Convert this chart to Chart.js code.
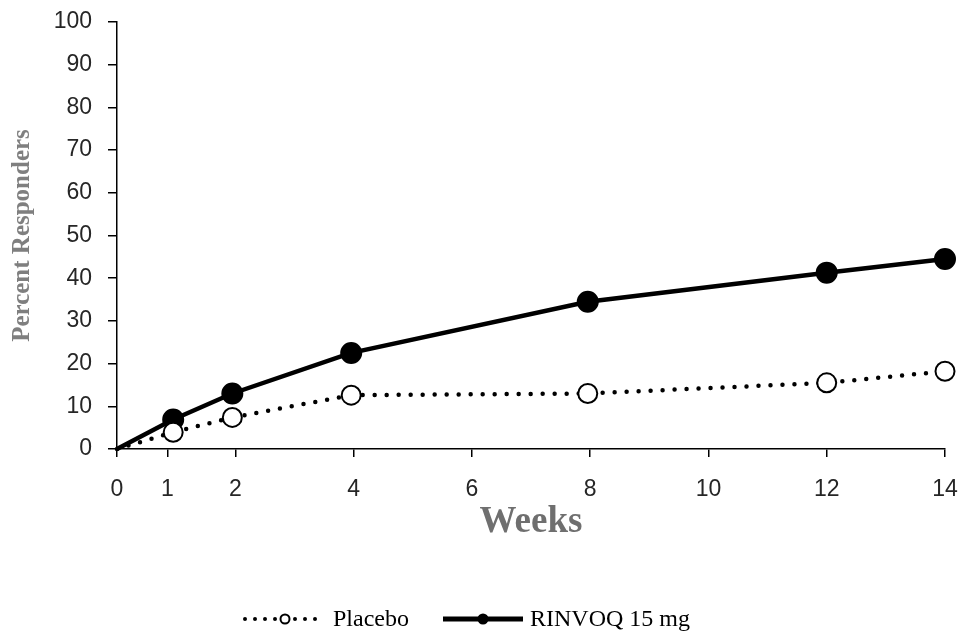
<!DOCTYPE html>
<html>
<head>
<meta charset="utf-8">
<script src="https://cdn.jsdelivr.net/npm/chart.js@4.4.1/dist/chart.umd.min.js"></script>
<style>
  html, body { margin: 0; padding: 0; background: #fff; }
  #wrap { width: 959px; height: 633px; }
</style>
</head>
<body>
<div id="wrap"><canvas id="respChart" width="959" height="633"></canvas></div>
<script>
// weeks where each visit was plotted
const weeks = [0, 0.95, 1.95, 3.96, 7.96, 12, 14];
const placebo = [0, 3.9, 7.4, 12.6, 13.0, 15.5, 18.2];
const rinvoq = [0, 6.9, 13.0, 22.5, 34.5, 41.3, 44.5];

const xTickValues = [0, 0.85, 2, 4, 6, 8, 10, 12, 14];
const xTickLabels = ['0', '1', '2', '4', '6', '8', '10', '12', '14'];
const yTicks = [0, 10, 20, 30, 40, 50, 60, 70, 80, 90, 100];

function toPoints(ys) {
  return weeks.map((w, i) => ({ x: w, y: ys[i] }));
}

// legend drawn on the canvas: sample line + marker + label
const bottomLegend = {
  id: 'bottomLegend',
  afterDraw(chart) {
    const ctx = chart.ctx;
    const y = 619;
    const items = [
      { ds: chart.data.datasets[0], x0: 245, x1: 325, tx: 333 },
      { ds: chart.data.datasets[1], x0: 443, x1: 523, tx: 530 }
    ];
    ctx.save();
    items.forEach(it => {
      const ds = it.ds;
      ctx.beginPath();
      ctx.strokeStyle = ds.borderColor;
      ctx.lineWidth = ds.legendLineWidth;
      ctx.lineCap = ds.borderCapStyle || 'butt';
      ctx.setLineDash(ds.legendDash || []);
      ctx.moveTo(it.x0, y);
      ctx.lineTo(it.x1, y);
      ctx.stroke();
      ctx.setLineDash([]);
      ctx.beginPath();
      ctx.arc((it.x0 + it.x1) / 2, y, 4.5, 0, Math.PI * 2);
      ctx.fillStyle = ds.pointBackgroundColor;
      ctx.fill();
      ctx.lineWidth = 2;
      ctx.strokeStyle = '#000';
      ctx.stroke();
      ctx.fillStyle = '#000';
      ctx.font = '24px "Liberation Serif", "Times New Roman", serif';
      ctx.textBaseline = 'middle';
      ctx.textAlign = 'left';
      ctx.fillText(ds.label, it.tx, y + 1);
    });
    ctx.restore();
  }
};

const ctx = document.getElementById('respChart').getContext('2d');
new Chart(ctx, {
  type: 'line',
  data: {
    datasets: [{
      label: 'Placebo',
      data: toPoints(placebo),
      borderColor: '#000',
      borderWidth: 4.5,
      borderDash: [0, 12],
      borderCapStyle: 'round',
      legendDash: [0, 10],
      legendLineWidth: 4,
      pointRadius: [0, 9.5, 9.5, 9.5, 9.5, 9.5, 9.5],
      pointBackgroundColor: '#fff',
      pointBorderColor: '#000',
      pointBorderWidth: 2,
      fill: false,
      tension: 0
    }, {
      label: 'RINVOQ 15 mg',
      data: toPoints(rinvoq),
      borderColor: '#000',
      borderWidth: 4.5,
      legendLineWidth: 5,
      borderCapStyle: 'butt',
      pointRadius: [0, 10, 10, 10, 10, 10, 10],
      pointBackgroundColor: '#000',
      pointBorderColor: '#000',
      pointBorderWidth: 2,
      fill: false,
      tension: 0
    }]
  },
  options: {
    responsive: false,
    animation: false,
    clip: false,
    layout: { padding: { left: 0, right: 14, top: 22, bottom: 88 } },
    plugins: {
      legend: { display: false },
      tooltip: { enabled: false }
    },
    scales: {
      x: {
        type: 'linear',
        min: 0,
        max: 14,
        afterBuildTicks: scale => { scale.ticks = xTickValues.map(v => ({ value: v })); },
        afterFit: scale => {
          scale.height = 96;
          scale.paddingLeft = 0;
          scale.paddingRight = 0;
        },
        ticks: {
          autoSkip: false,
          maxRotation: 0,
          padding: 19,
          color: '#262626',
          font: { family: '"Liberation Sans", Arial, sans-serif', size: 23 },
          callback: (v, i) => xTickLabels[i]
        },
        grid: { drawOnChartArea: false, drawTicks: true, tickLength: 8, color: '#000', lineWidth: 1.5 },
        border: { display: true, color: '#000', width: 1.5 },
        title: {
          display: true,
          text: 'Weeks',
          color: '#6f6f6f',
          padding: 0,
          font: { family: '"Liberation Serif", "Times New Roman", serif', size: 37, weight: 'bold' }
        }
      },
      y: {
        min: 0,
        max: 100,
        afterBuildTicks: scale => { scale.ticks = yTicks.map(v => ({ value: v })); },
        afterFit: scale => {
          scale.width = 117;
          scale.paddingTop = 0;
          scale.paddingBottom = 0;
        },
        ticks: {
          padding: 16,
          color: '#262626',
          font: { family: '"Liberation Sans", Arial, sans-serif', size: 23 }
        },
        grid: { drawOnChartArea: false, drawTicks: true, tickLength: 9, color: '#000', lineWidth: 1.5 },
        border: { display: true, color: '#000', width: 1.5 },
        title: {
          display: true,
          text: 'Percent Responders',
          color: '#7f7f7f',
          padding: { top: 8, bottom: 0 },
          font: { family: '"Liberation Serif", "Times New Roman", serif', size: 25, weight: 'bold' }
        }
      }
    }
  },
  plugins: [bottomLegend]
});
</script>
</body>
</html>
